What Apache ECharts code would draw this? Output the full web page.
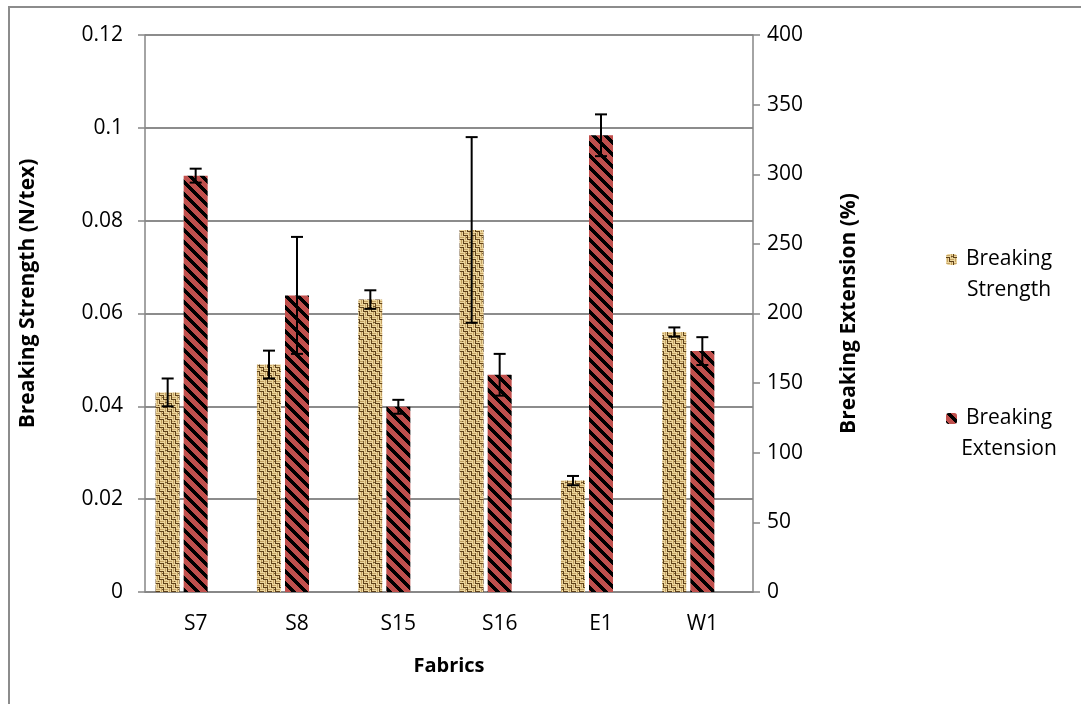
<!DOCTYPE html>
<html>
<head>
<meta charset="utf-8">
<script src="https://cdn.jsdelivr.net/npm/echarts@6/dist/echarts.min.js"></script>
<style>
html,body{margin:0;padding:0;background:#fff;}
#c{width:1081px;height:704px;}
</style>
</head>
<body>
<div id="c"></div>
<script>
const categories = ['S7', 'S8', 'S15', 'S16', 'E1', 'W1'];
const strength = [0.043, 0.049, 0.063, 0.078, 0.024, 0.056];
const strengthErr = [0.003, 0.003, 0.002, 0.020, 0.001, 0.001];
const extension = [299, 213, 133, 156, 328, 173];
const extensionErr = [5, 42, 5, 15, 15, 10];
const leftTicks = [0, 0.02, 0.04, 0.06, 0.08, 0.1, 0.12];
const rightTicks = [0, 50, 100, 150, 200, 250, 300, 350, 400];

const FONT = '"Open Sans", "Liberation Sans", sans-serif';

function makeStripe() {
  const n = 12;
  const c = document.createElement('canvas');
  c.width = n; c.height = n;
  const ctx = c.getContext('2d');
  const img = ctx.createImageData(n, n);
  for (let y = 0; y < n; y++) {
    for (let x = 0; x < n; x++) {
      const k = (((x - y) % n) + n) % n;
      const i = (y * n + x) * 4;
      if (k < 5) { img.data[i] = 0; img.data[i+1] = 0; img.data[i+2] = 0; }
      else { img.data[i] = 192; img.data[i+1] = 80; img.data[i+2] = 77; }
      img.data[i+3] = 255;
    }
  }
  ctx.putImageData(img, 0, 0);
  return c;
}

function makeBurlap() {
  const n = 16;
  const c = document.createElement('canvas');
  c.width = n; c.height = n;
  const ctx = c.getContext('2d');
  ctx.fillStyle = '#b8955a';
  ctx.fillRect(0, 0, n, n);
  const light = '#ecd69c', mid = '#c4a164', dark = '#5f4119';
  for (let by = 0; by < 4; by++) {
    for (let bx = 0; bx < 4; bx++) {
      const ox = bx * 4, oy = by * 4;
      const horiz = (bx + by) % 2 === 0;
      if (horiz) {
        ctx.fillStyle = light; ctx.fillRect(ox, oy, 4, 1);
        ctx.fillStyle = mid; ctx.fillRect(ox, oy + 1, 4, 1);
        ctx.fillStyle = light; ctx.fillRect(ox, oy + 2, 4, 1);
        ctx.fillStyle = dark; ctx.fillRect(ox, oy + 3, 4, 1);
      } else {
        ctx.fillStyle = light; ctx.fillRect(ox, oy, 1, 4);
        ctx.fillStyle = mid; ctx.fillRect(ox + 1, oy, 1, 4);
        ctx.fillStyle = light; ctx.fillRect(ox + 2, oy, 1, 4);
        ctx.fillStyle = dark; ctx.fillRect(ox + 3, oy, 1, 4);
      }
    }
  }
  ctx.fillStyle = 'rgba(80,52,15,0.7)';
  ctx.fillRect(5, 2, 2, 1); ctx.fillRect(11, 9, 1, 2); ctx.fillRect(2, 13, 2, 1); ctx.fillRect(14, 5, 1, 1);
  return c;
}

const stripe = makeStripe();
const burlap = makeBurlap();

function errorSeries(name, values, errs, yIdx, offset) {
  return {
    type: 'custom',
    name: name,
    yAxisIndex: yIdx,
    z: 5,
    data: values.map((v, i) => [i, v, v - errs[i], v + errs[i]]),
    renderItem: function (params, api) {
      const c = api.coord([api.value(0), api.value(1)]);
      const lo = api.coord([api.value(0), api.value(2)]);
      const hi = api.coord([api.value(0), api.value(3)]);
      const x = c[0] + offset;
      const hw = 6;
      const st = { stroke: '#000', lineWidth: 2 };
      return {
        type: 'group',
        children: [
          { type: 'line', shape: { x1: x, y1: lo[1], x2: x, y2: hi[1] }, style: st },
          { type: 'line', shape: { x1: x - hw, y1: lo[1], x2: x + hw, y2: lo[1] }, style: st },
          { type: 'line', shape: { x1: x - hw, y1: hi[1], x2: x + hw, y2: hi[1] }, style: st }
        ]
      };
    },
    silent: true
  };
}

const legendRich = { a: { fontFamily: FONT, fontSize: 21, color: '#000', width: 94, align: 'center', lineHeight: 31 } };

const chart = echarts.init(document.getElementById('c'), null, { renderer: 'canvas' });
const axisLineStyle = { color: '#868686', width: 1.5 };
chart.setOption({
  animation: false,
  backgroundColor: '#fff',
  textStyle: { fontFamily: FONT },
  graphic: [{
    type: 'rect', shape: { x: 9, y: 7, width: 1100, height: 720 },
    style: { fill: 'none', stroke: '#8c8c8c', lineWidth: 2 }, silent: true, z: -1
  }],
  grid: { left: 145, top: 35, width: 608, height: 557, containLabel: false },
  legend: [
    {
      data: ['Breaking Strength'], orient: 'vertical', left: 941, top: 244,
      itemWidth: 11, itemHeight: 11, itemGap: 0,
      formatter: () => '{a|Breaking}\n{a|Strength}',
      textStyle: { padding: [31, 0, 0, 0], rich: legendRich }
    },
    {
      data: ['Breaking Extension'], orient: 'vertical', left: 941, top: 403,
      itemWidth: 11, itemHeight: 11, itemGap: 0,
      formatter: () => '{a|Breaking}\n{a|Extension}',
      textStyle: { padding: [31, 0, 0, 0], rich: legendRich }
    }
  ],
  xAxis: {
    type: 'category',
    data: categories,
    name: 'Fabrics',
    nameLocation: 'middle',
    nameGap: 64,
    nameTextStyle: { fontFamily: FONT, fontSize: 20, fontWeight: 'bold', color: '#000' },
    axisLine: { lineStyle: axisLineStyle },
    axisTick: { show: false },
    axisLabel: { fontFamily: FONT, fontSize: 21, color: '#000', margin: 22 }
  },
  yAxis: [
    {
      type: 'value', min: 0, max: 0.12, interval: 0.02,
      name: 'Breaking Strength (N/tex)',
      nameLocation: 'middle', nameGap: 106, nameRotate: 90,
      nameTextStyle: { fontFamily: FONT, fontSize: 21, fontWeight: 'bold', color: '#000', padding: [0, 0, 0, 40] },
      axisLine: { show: true, lineStyle: axisLineStyle },
      axisTick: { show: true, length: 7, lineStyle: axisLineStyle },
      splitLine: { show: true, lineStyle: { color: '#8c8c8c', width: 2 } },
      axisLabel: {
        fontFamily: FONT, fontSize: 21, color: '#000', margin: 22,
        formatter: v => { const t = leftTicks.find(x => Math.abs(x - v) < 1e-9); return t === undefined ? '' : String(t); }
      }
    },
    {
      type: 'value', min: 0, max: 400, interval: 50,
      name: 'Breaking Extension (%)',
      nameLocation: 'middle', nameGap: 86, nameRotate: 90,
      nameTextStyle: { fontFamily: FONT, fontSize: 21, fontWeight: 'bold', color: '#000' },
      axisLine: { show: true, lineStyle: axisLineStyle },
      axisTick: { show: true, length: 7, lineStyle: axisLineStyle },
      splitLine: { show: false },
      axisLabel: {
        fontFamily: FONT, fontSize: 21, color: '#000', margin: 14,
        formatter: v => { const t = rightTicks.find(x => Math.abs(x - v) < 1e-9); return t === undefined ? '' : String(t); }
      }
    }
  ],
  series: [
    {
      name: 'Breaking Strength', type: 'bar', yAxisIndex: 0, data: strength,
      barWidth: 24, barGap: '17%',
      itemStyle: { color: { image: burlap, repeat: 'repeat' } }
    },
    {
      name: 'Breaking Extension', type: 'bar', yAxisIndex: 1, data: extension,
      barWidth: 24, barGap: '17%',
      itemStyle: { color: { image: stripe, repeat: 'repeat' } }
    },
    {
      name: 'spacer', type: 'bar', yAxisIndex: 1, data: categories.map(() => '-'),
      barWidth: 24, barGap: '17%', silent: true
    },
    errorSeries('errS', strength, strengthErr, 0, -28),
    errorSeries('errE', extension, extensionErr, 1, 0)
  ]
});
</script>
</body>
</html>
